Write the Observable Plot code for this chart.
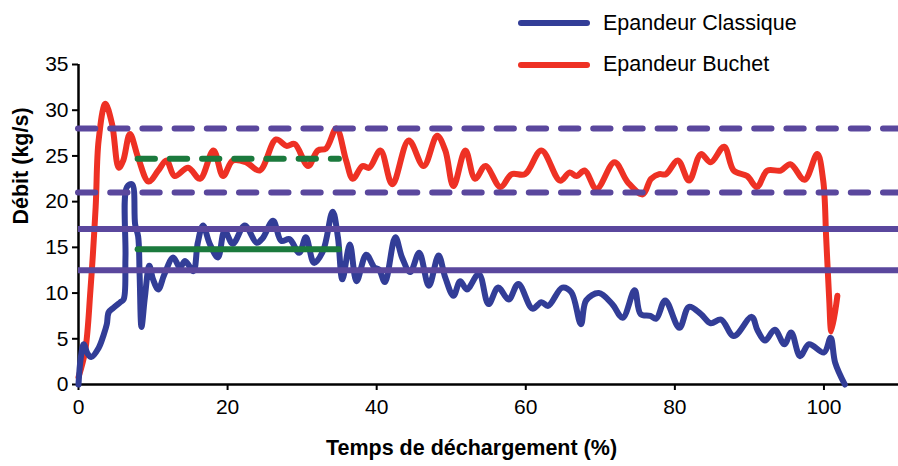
<!DOCTYPE html>
<html><head><meta charset="utf-8">
<script src="https://cdn.jsdelivr.net/npm/d3@7"></script>
<script src="https://cdn.jsdelivr.net/npm/@observablehq/plot@0.6"></script>
<style>
body{margin:0;background:#fff;font-family:"Liberation Sans",Arial,sans-serif;}
#wrap{position:relative;width:898px;height:466px;overflow:hidden;}
.item{position:absolute;left:515px;height:26px;display:flex;align-items:center;font-size:21.5px;color:#000;white-space:nowrap;}
.item svg{margin-right:10px;}
</style></head><body><div id="wrap"></div>
<script>
// ---- data ----
const seriesNames = ["Epandeur Classique", "Epandeur Buchet"];
const seriesColors = ["#323D97", "#EE3124"];

const classiqueX = [0,0.3,0.7,1.2,1.7,2.7,3.4,3.8,4.05,4.7,5.6,6.05,6.3,6.5,7.2,7.6,8.0,8.2,8.45,8.9,9.5,10.0,10.7,11.5,12.7,13.6,14.3,15.4,16.0,16.7,17.6,18.7,19.6,20.7,22.3,23.9,24.7,26.1,27.2,28.3,29.6,30.5,31.6,32.8,34.1,34.8,35.4,36.4,37.3,38.6,39.7,40.3,41.1,42.5,43.4,44.5,45.7,47.0,48.3,49.2,50.3,51.2,52.1,53.7,55.0,56.3,57.7,59.0,60.9,62.1,63.0,64.9,66.1,67.4,68.1,69.8,71.6,73.0,74.6,75.4,76.7,77.5,78.7,80.6,81.9,83.5,84.8,86.2,87.9,90.3,91.1,92.1,93.4,94.7,95.6,96.8,98.0,100.0,100.9,101.5,102.8];
const classiqueY = [0,2.9,4.4,3.4,3.0,4.0,5.5,6.6,7.9,8.4,9.0,9.3,13.9,21.6,21.9,17.5,16.2,12.0,6.3,9.5,13.0,11.5,10.4,12.0,13.9,12.8,13.5,12.4,15.5,17.4,15.4,13.9,16.8,15.4,17.4,15.5,16.0,17.9,15.7,15.9,14.4,16.1,13.3,14.6,18.9,16.1,11.5,15.3,11.3,14.2,12.8,12.6,11.2,16.1,13.9,12.3,14.4,10.8,14.1,11.7,9.7,11.3,10.4,12.1,8.8,10.6,9.3,11.0,8.3,9.0,8.6,10.6,10.1,6.6,9.2,10.0,8.8,7.3,10.3,7.7,7.5,7.2,9.2,6.2,8.5,7.7,6.7,7.1,5.3,7.4,5.9,4.8,6.0,4.4,5.7,3.1,4.4,3.5,5.1,2.4,0];

const buchetX = [0,0.9,1.6,2.3,2.7,3.6,4.5,5.4,6.0,6.9,8.0,9.4,10.7,11.8,12.9,14.7,16.3,18.1,19.4,20.7,22.5,24.3,26.5,27.9,29.0,30.8,32.1,33.2,34.6,35.9,36.8,38.1,39.0,40.5,42.1,44.3,46.3,48.1,49.2,50.3,51.9,53.2,54.6,56.6,58.1,59.9,62.1,64.6,65.9,66.8,67.9,69.5,71.9,73.7,75.7,76.8,77.9,78.8,80.4,81.9,83.5,84.8,86.6,87.9,89.7,91.0,92.4,94.2,95.5,97.4,99.1,99.9,100.3,100.7,101.0,101.8];
const buchetY = [0.8,3.7,10.3,19.4,26.7,30.7,28.5,23.7,24.5,27.4,24.8,22.2,23.4,24.5,22.8,23.7,22.5,25.6,22.8,24.5,24.3,23.4,26.8,26.1,26.3,23.9,25.6,25.8,28.0,24.5,22.5,23.9,23.7,25.6,21.9,26.7,23.9,27.2,25.6,21.7,25.6,22.5,23.9,21.6,23.0,23.0,25.6,22.3,23.2,22.8,23.4,21.4,24.3,22.1,20.8,22.5,23.0,23.0,24.5,22.3,25.2,24.3,26.0,23.4,22.8,21.6,23.4,23.4,24.1,22.4,25.2,22.3,16.0,9.4,5.8,9.7];

const refDashed = [28, 21];      // purple dashed limits
const refSolid = [17, 12.5];     // purple solid limits
const greenRange = [8.0, 35.0];  // green averages span
const greenDashedY = 24.7;
const greenSolidY = 14.8;

const xTicks = [0, 20, 40, 60, 80, 100];
const yTicks = [0, 5, 10, 15, 20, 25, 30, 35];
const xTitle = "Temps de déchargement (%)";
const yTitle = "Débit (kg/s)";

// ---- build ----
const classique = classiqueX.map((x, i) => ({x, y: classiqueY[i]}));
const buchet = buchetX.map((x, i) => ({x, y: buchetY[i]}));
const purple = "#5A479D", green = "#1B7A3D";
const lw = 6;
const dash = "17.3,14.9";

const chart = Plot.plot({
  width: 898, height: 466,
  marginLeft: 78, marginRight: 0, marginTop: 64, marginBottom: 82,
  style: {fontFamily: "'Liberation Sans', Arial, sans-serif", fontSize: "21px", color: "#000", background: "white", overflow: "visible"},
  x: {domain: [0, 110]},
  y: {domain: [0, 35]},
  marks: [
    Plot.ruleX([0], {stroke: "#000", strokeWidth: 2.5}),
    Plot.ruleY([0], {stroke: "#000", strokeWidth: 2.5}),
    Plot.axisX({ticks: xTicks, tickSize: 6, tickPadding: 9, label: null, strokeWidth: 2, fill: "#000"}),
    Plot.axisY({ticks: yTicks, tickSize: 6, tickPadding: 4, label: null, strokeWidth: 2, fill: "#000"}),
    Plot.line(buchet, {x: "x", y: "y", stroke: seriesColors[1], strokeWidth: lw, curve: "catmull-rom", strokeLinejoin: "round", strokeLinecap: "round"}),
    Plot.line(classique, {x: "x", y: "y", stroke: seriesColors[0], strokeWidth: lw, curve: "catmull-rom", strokeLinejoin: "round", strokeLinecap: "round"}),
    Plot.ruleY(refDashed, {stroke: purple, strokeWidth: lw, strokeDasharray: dash, strokeLinecap: "round"}),
    Plot.ruleY(refSolid, {stroke: purple, strokeWidth: lw}),
    Plot.ruleY([greenDashedY], {x1: greenRange[0], x2: greenRange[1], stroke: green, strokeWidth: lw, strokeDasharray: dash, strokeLinecap: "round"}),
    Plot.ruleY([greenSolidY], {x1: greenRange[0], x2: greenRange[1], stroke: green, strokeWidth: lw, strokeLinecap: "round"}),
    Plot.text([xTitle], {text: d => d, frameAnchor: "bottom", dy: 70, dx: -17, fontWeight: "bold", fontSize: 21.5, fill: "#000"}),
    Plot.text([yTitle], {text: d => d, frameAnchor: "left", dx: -57, rotate: -90, fontWeight: "bold", fontSize: 21.5, fill: "#000"})
  ]
});

const wrap = document.getElementById("wrap");
wrap.appendChild(chart);

// legend (HTML overlay)
const legendCenters = [23, 64.5];
seriesNames.forEach((name, i) => {
  const item = document.createElement("div");
  item.className = "item";
  item.style.top = (legendCenters[i] - 13) + "px";
  item.innerHTML = `<svg width="78" height="10"><line x1="6" x2="72" y1="5" y2="5" stroke="${seriesColors[i]}" stroke-width="${lw}" stroke-linecap="round"/></svg><span>${name}</span>`;
  wrap.appendChild(item);
});
</script></body></html>
